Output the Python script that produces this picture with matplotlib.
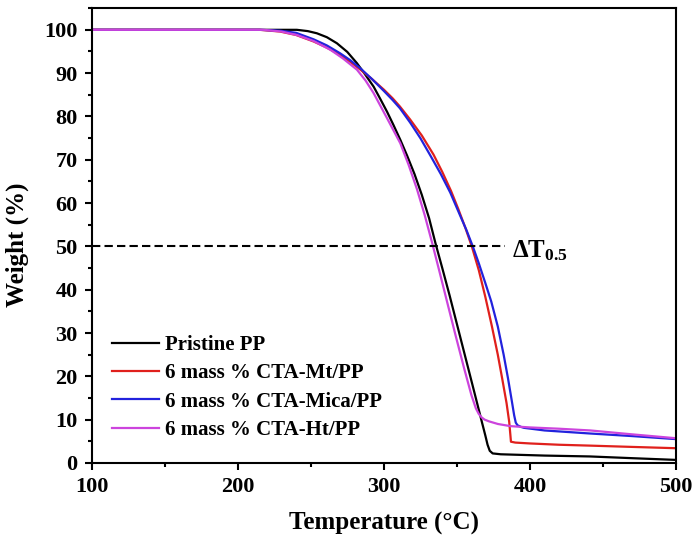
import matplotlib
matplotlib.use("Agg")
import matplotlib.pyplot as plt
from matplotlib.ticker import MultipleLocator

plt.rcParams['font.family'] = ['Liberation Serif', 'DejaVu Serif']
plt.rcParams['font.weight'] = 'bold'
plt.rcParams['mathtext.fontset'] = 'custom'
plt.rcParams['mathtext.rm'] = 'Liberation Serif'
plt.rcParams['mathtext.bf'] = 'Liberation Serif:bold'

# === Données (TGA) ===
t_pp = [100, 200, 240.5, 248, 254.2, 261, 267.9, 275, 281.6, 287, 293, 297.5, 302.2,
        306.5, 311.3, 316, 321, 326, 331, 335.3, 340, 345, 350, 355, 360, 364, 367,
        369.5, 371, 372.5, 374.5, 380, 390, 410, 441, 470, 500]
w_pp = [100, 100, 100, 99.7, 99.2, 98.3, 96.9, 94.9, 92.3, 89.8, 86.9, 84.1, 81.1,
        78.1, 74.6, 70.9, 66.7, 61.9, 56.5, 50.8, 45.0, 38.7, 32.1, 25.5, 18.9, 13.6, 9.6,
        6.3, 4.2, 2.8, 2.2, 2.0, 1.9, 1.7, 1.5, 1.1, 0.7]

t_mt = [100, 200, 215, 229, 240, 252, 261, 270, 277, 284, 292, 300, 306, 311, 318,
        326, 334, 340, 346, 351, 356, 360.4, 365, 369.5, 374, 378, 381, 384, 385.8,
        386.6, 387.0, 390, 400, 420, 441, 470, 500]
w_mt = [100, 100, 100, 99.6, 98.8, 97.3, 95.9, 94.2, 92.6, 90.8, 88.6, 86.2, 84.2, 82.3, 79.3,
        75.6, 71.2, 67.2, 62.8, 58.6, 54.1, 49.8, 44.5, 38.3, 31.5, 25, 19.5, 13.8, 9.5,
        6.5, 4.9, 4.7, 4.5, 4.2, 4.0, 3.7, 3.4]

t_mica = [100, 200, 215, 229, 240, 252, 261, 270, 277, 284, 292, 300, 306, 311, 318,
          325, 332, 339, 345.5, 352, 356.5, 361, 365, 369.5, 373.5, 378, 382, 385, 387.5,
          389.2, 390.3, 391.5, 394, 396, 410, 441, 470, 500]
w_mica = [100, 100, 100, 99.8, 99.3, 97.8, 96.4, 94.6, 93, 91.1, 88.6, 85.9, 83.8, 81.9, 78.6,
          75, 70.9, 66.7, 62.4, 57.3, 53.8, 49.9, 46.1, 41.5, 37.3, 31.5, 25, 19.5, 14.5,
          11, 9.3, 8.7, 8.3, 8.1, 7.5, 6.8, 6.2, 5.5]

t_ht = [100, 200, 217.7, 230, 240.5, 252, 263.4, 272, 281.6, 287.5, 293, 302.2, 311.3,
        317, 322.7, 328, 333, 338, 343.3, 349, 355, 360, 363, 365, 367, 369, 372,
        378, 386.6, 400, 420, 441.4, 470, 500]
w_ht = [100, 100, 100, 99.6, 98.8, 97.4, 95.4, 93.4, 90.8, 88.3, 85.4, 79.6, 73.8,
        68.8, 63.2, 57.2, 50.9, 44.3, 37.2, 29.6, 21.8, 15.6, 12.6, 11.3, 10.5, 10.0, 9.6,
        9.0, 8.5, 8.2, 7.9, 7.5, 6.6, 5.7]

labels = ["Pristine PP", "6 mass % CTA-Mt/PP", "6 mass % CTA-Mica/PP", "6 mass % CTA-Ht/PP"]
colors = ["black", "#e0201c", "#2222dd", "#cc44dd"]

fig = plt.figure(figsize=(6.97, 5.44), dpi=100)
ax = fig.add_axes([0.1313, 0.149, 0.8387, 0.836])

for t, w, lab, c in zip([t_pp, t_mt, t_mica, t_ht], [w_pp, w_mt, w_mica, w_ht], labels, colors):
    ax.plot(t, w, color=c, lw=1.6, label=lab)

# ligne à 50 %
ax.plot([100, 383], [50, 50], color="black", lw=1.5, linestyle=(0, (4, 2)))
ax.text(388, 49, r"$\mathbf{\Delta T_{0.5}}$", fontsize=18, va="center", ha="left")

ax.set_xlim(100, 500)
ax.set_ylim(0, 105)
ax.xaxis.set_major_locator(MultipleLocator(100))
ax.xaxis.set_minor_locator(MultipleLocator(50))
ax.yaxis.set_major_locator(MultipleLocator(10))
ax.yaxis.set_minor_locator(MultipleLocator(5))
ax.tick_params(which="both", direction="out", width=1.5, top=False, right=False, labelsize=16)
ax.tick_params(which="major", length=5, pad=5)
ax.tick_params(which="minor", length=3)
for s in ax.spines.values():
    s.set_linewidth(1.5)

ax.set_xlabel("Temperature (°C)", fontsize=18, fontweight="bold", labelpad=11)
ax.set_ylabel("Weight (%)", fontsize=18, fontweight="bold")
ax.yaxis.set_label_coords(-0.107, 0.48)

ax.legend(loc="upper left", bbox_to_anchor=(0.02, 0.30), frameon=False, fontsize=15,
          handlelength=2.3, handletextpad=0.25, labelspacing=0.4, borderaxespad=0)

fig.savefig("out.png", dpi=100)
